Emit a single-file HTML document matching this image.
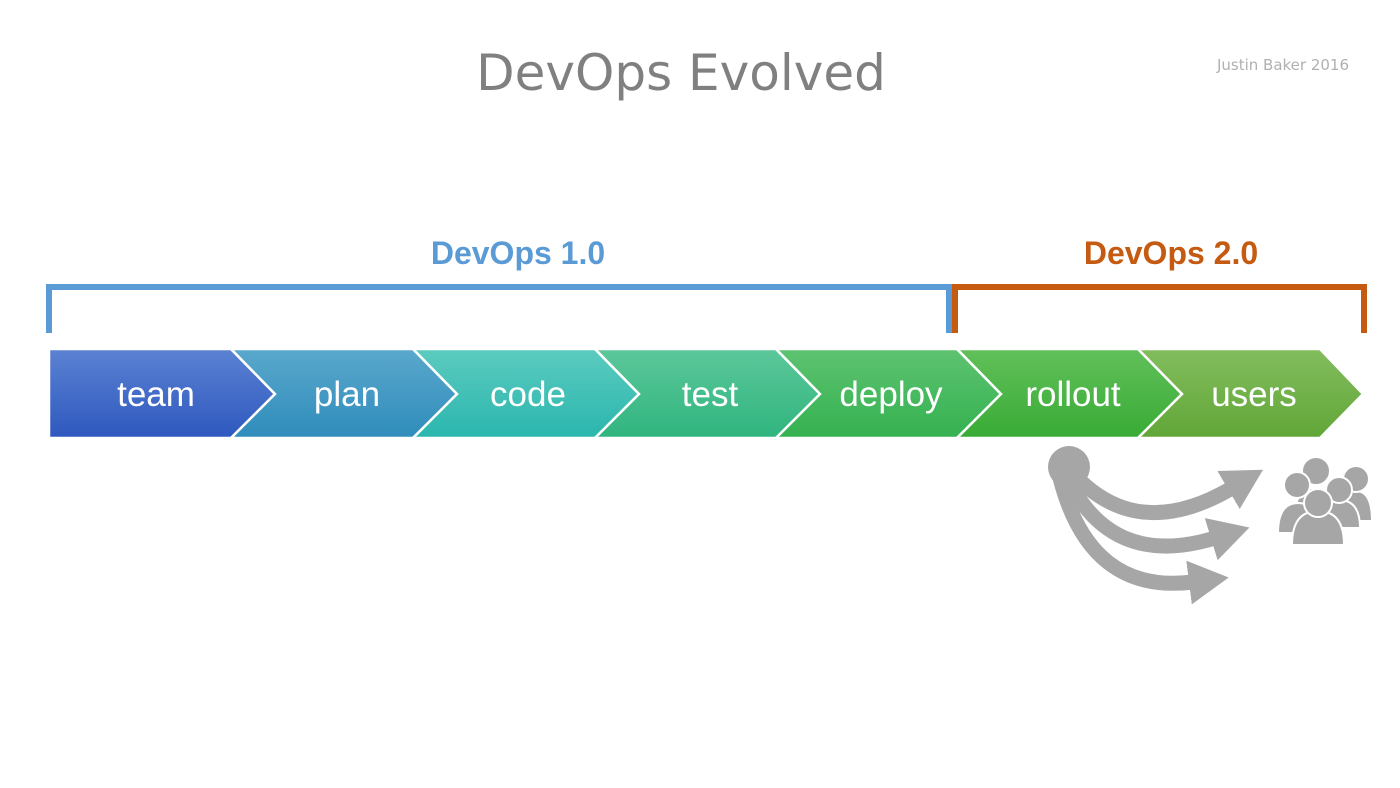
<!DOCTYPE html>
<html><head><meta charset="utf-8"><style>
html,body{margin:0;padding:0;background:#fff}
svg{display:block}
</style></head><body>
<svg width="1400" height="788" viewBox="0 0 1400 788" xmlns="http://www.w3.org/2000/svg">
<defs>
<linearGradient id="g0" x1="0" y1="0" x2="0" y2="1"><stop offset="0" stop-color="#5b82d2"/><stop offset="1" stop-color="#2e58bf"/></linearGradient>
<linearGradient id="g1" x1="0" y1="0" x2="0" y2="1"><stop offset="0" stop-color="#5aa8cc"/><stop offset="1" stop-color="#2f8cbb"/></linearGradient>
<linearGradient id="g2" x1="0" y1="0" x2="0" y2="1"><stop offset="0" stop-color="#5ccbbf"/><stop offset="1" stop-color="#2ab6ae"/></linearGradient>
<linearGradient id="g3" x1="0" y1="0" x2="0" y2="1"><stop offset="0" stop-color="#5cc79a"/><stop offset="1" stop-color="#30b57f"/></linearGradient>
<linearGradient id="g4" x1="0" y1="0" x2="0" y2="1"><stop offset="0" stop-color="#5ec371"/><stop offset="1" stop-color="#34b150"/></linearGradient>
<linearGradient id="g5" x1="0" y1="0" x2="0" y2="1"><stop offset="0" stop-color="#62c05a"/><stop offset="1" stop-color="#38ab35"/></linearGradient>
<linearGradient id="g6" x1="0" y1="0" x2="0" y2="1"><stop offset="0" stop-color="#82bd5e"/><stop offset="1" stop-color="#62a637"/></linearGradient>
<marker id="ah" markerUnits="userSpaceOnUse" markerWidth="50" markerHeight="50" refX="4" refY="22" orient="auto"><polygon points="0,0 40,22 0,44" fill="#a6a6a6"/></marker>
</defs>

<text x="681" y="90" text-anchor="middle" font-family="'DejaVu Sans','Liberation Sans',sans-serif" font-size="50" fill="#808080">DevOps Evolved</text>
<text x="1349" y="70" text-anchor="end" font-family="'DejaVu Sans','Liberation Sans',sans-serif" font-size="15" fill="#b0b0b0">Justin Baker 2016</text>

<text x="518" y="264" text-anchor="middle" font-family="'Liberation Sans',sans-serif" font-weight="bold" font-size="32" fill="#5b9bd5">DevOps 1.0</text>
<text x="1171" y="264" text-anchor="middle" font-family="'Liberation Sans',sans-serif" font-weight="bold" font-size="32" fill="#c55a11">DevOps 2.0</text>

<polyline points="49,333 49,287 949,287 949,333" fill="none" stroke="#5b9bd5" stroke-width="6"/>
<polyline points="955,333 955,287 1364,287 1364,333" fill="none" stroke="#c55a11" stroke-width="6"/>

<g stroke="#fff" stroke-width="2.5">
<polygon points="49,349 231,349 275,394 231,438 49,438" fill="url(#g0)"/>
<polygon points="231,349 413,349 457,394 413,438 231,438 275,394" fill="url(#g1)"/>
<polygon points="413,349 595,349 639,394 595,438 413,438 457,394" fill="url(#g2)"/>
<polygon points="595,349 776,349 820,394 776,438 595,438 639,394" fill="url(#g3)"/>
<polygon points="776,349 957,349 1001,394 957,438 776,438 820,394" fill="url(#g4)"/>
<polygon points="957,349 1138,349 1182,394 1138,438 957,438 1001,394" fill="url(#g5)"/>
<polygon points="1138,349 1320,349 1363,394 1320,438 1138,438 1182,394" fill="url(#g6)"/>
</g>
<g font-family="'Liberation Sans',sans-serif" font-size="35" fill="#fff" text-anchor="middle">
<text x="156" y="406">team</text>
<text x="347" y="406">plan</text>
<text x="528" y="406">code</text>
<text x="710" y="406">test</text>
<text x="891" y="406">deploy</text>
<text x="1073" y="406">rollout</text>
<text x="1254" y="406">users</text>
</g>

<g fill="none" stroke="#a6a6a6" stroke-width="15">
<path d="M1070,470 Q1135,545 1232,488" marker-end="url(#ah)"/>
<path d="M1066,475 Q1110,570 1215,538" marker-end="url(#ah)"/>
<path d="M1060,478 Q1090,595 1193,582" marker-end="url(#ah)"/>
</g>
<circle cx="1069" cy="467" r="21" fill="#a6a6a6"/>

<g fill="#a6a6a6" stroke="#fff" stroke-width="2">
<path d="M1330,521 q0,-30 26,-30 q16,0 16,30 z"/>
<circle cx="1356" cy="479" r="13"/>
<path d="M1296,510 q0,-22 20,-22 q20,0 20,22 z"/>
<circle cx="1316" cy="471" r="14"/>
<path d="M1278,533 q0,-30 20,-30 q22,0 22,30 z"/>
<circle cx="1297" cy="485" r="13"/>
<path d="M1318,528 q0,-28 21,-28 q21,0 21,28 z"/>
<circle cx="1339" cy="490" r="13"/>
<path d="M1292,545 q0,-34 26,-34 q26,0 26,34 z"/>
<circle cx="1318" cy="503" r="14"/>
</g>
</svg>
</body></html>
